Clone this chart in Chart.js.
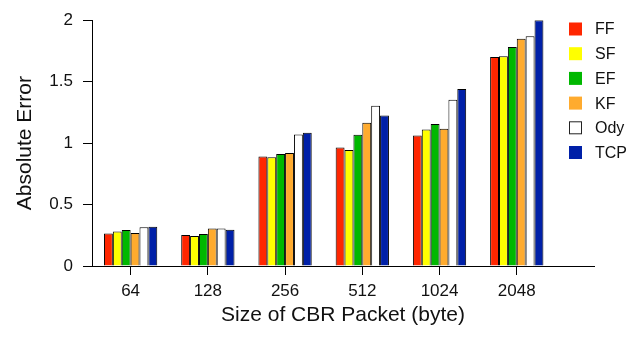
<!DOCTYPE html>
<html>
<head>
<meta charset="utf-8">
<script src="https://cdn.jsdelivr.net/npm/chart.js@4/dist/chart.umd.min.js"></script>
<style>
  html, body { margin: 0; padding: 0; background: #fff; }
  canvas { display: block; }
</style>
</head>
<body>
<canvas id="chart" width="628" height="337"></canvas>
<script>
"use strict";

// パケットサイズ (x 軸のカテゴリ)
const packetSizes = ["64", "128", "256", "512", "1024", "2048"];
const yTicks = [0, 0.5, 1, 1.5, 2];

// 各手法の絶対誤差
const seriesNames = ["FF", "SF", "EF", "KF", "Ody", "TCP"];
const ffValues  = [0.265, 0.252, 0.890, 0.964, 1.062, 1.700];
const sfValues  = [0.281, 0.245, 0.884, 0.943, 1.110, 1.707];
const efValues  = [0.292, 0.260, 0.911, 1.068, 1.155, 1.782];
const kfValues  = [0.268, 0.305, 0.919, 1.166, 1.116, 1.849];
const odyValues = [0.316, 0.305, 1.070, 1.304, 1.352, 1.870];
const tcpValues = [0.319, 0.295, 1.084, 1.225, 1.440, 2.000];

const seriesColors = ["#ff2600", "#ffff00", "#00b800", "#ffab2e", "#ffffff", "#0020a8"];

const FONT = "'Liberation Sans', Arial, Helvetica, sans-serif";
Chart.defaults.font.family = FONT;
Chart.defaults.color = "#111";

const allSeries = [ffValues, sfValues, efValues, kfValues, odyValues, tcpValues];
const datasets = allSeries.map((vals, i) => ({
  label: seriesNames[i],
  data: vals.map((v, j) => ({ x: j, y: v })),
  backgroundColor: seriesColors[i],
  borderColor: "#000",
  borderWidth: 1,
  categoryPercentage: 0.69,
  barPercentage: 1,
}));

// 右側の凡例を描く
const sideLegend = {
  id: "sideLegend",
  afterDraw(chart) {
    const ctx = chart.ctx;
    ctx.save();
    ctx.font = "16px " + FONT;
    ctx.textBaseline = "middle";
    ctx.textAlign = "left";
    chart.data.datasets.forEach((ds, i) => {
      const cy = 29 + i * 24.7;
      ctx.fillStyle = ds.backgroundColor;
      ctx.fillRect(569, cy - 6.5, 13, 13);
      if (ds.label === "Ody") {
        ctx.strokeStyle = "#222";
        ctx.lineWidth = 1;
        ctx.strokeRect(569.5, cy - 6, 12, 12);
      }
      ctx.fillStyle = "#111";
      ctx.fillText(ds.label, 595, cy + 1);
    });
    ctx.restore();
  },
};

new Chart(document.getElementById("chart"), {
  type: "bar",
  data: { datasets },
  options: {
    responsive: false,
    animation: false,
    layout: { padding: { left: 0, right: 34, top: 15, bottom: 0 } },
    plugins: {
      legend: { display: false },
      tooltip: { enabled: false },
    },
    scales: {
      x: {
        type: "linear",
        min: -0.5,
        max: 6,
        offset: false,
        afterBuildTicks: (scale) => {
          scale.ticks = packetSizes.map((_, i) => ({ value: i }));
        },
        afterFit: (scale) => { scale.height = 71; },
        ticks: {
          autoSkip: false,
          maxRotation: 0,
          padding: 6,
          color: "#111",
          font: { size: 17 },
          callback: (v) => packetSizes[v],
        },
        grid: { drawOnChartArea: false, offset: false, tickLength: 9, color: "#000" },
        border: { color: "#000", width: 1 },
        title: {
          display: true,
          text: "Size of CBR Packet (byte)",
          color: "#111",
          font: { size: 21 },
          padding: { top: 0, bottom: 9 },
        },
      },
      y: {
        min: 0,
        max: 2,
        afterBuildTicks: (scale) => {
          scale.ticks = yTicks.map((v) => ({ value: v }));
        },
        afterFit: (scale) => { scale.width = 92; },
        ticks: {
          padding: 10,
          color: "#111",
          font: { size: 17 },
          callback: (v) => String(v),
        },
        grid: { drawOnChartArea: false, tickLength: 9, color: "#000" },
        border: { color: "#000", width: 1 },
        title: {
          display: true,
          text: "Absolute Error",
          color: "#111",
          font: { size: 21 },
          padding: { top: 13, bottom: 0 },
        },
      },
    },
  },
  plugins: [sideLegend],
});
</script>
</body>
</html>
